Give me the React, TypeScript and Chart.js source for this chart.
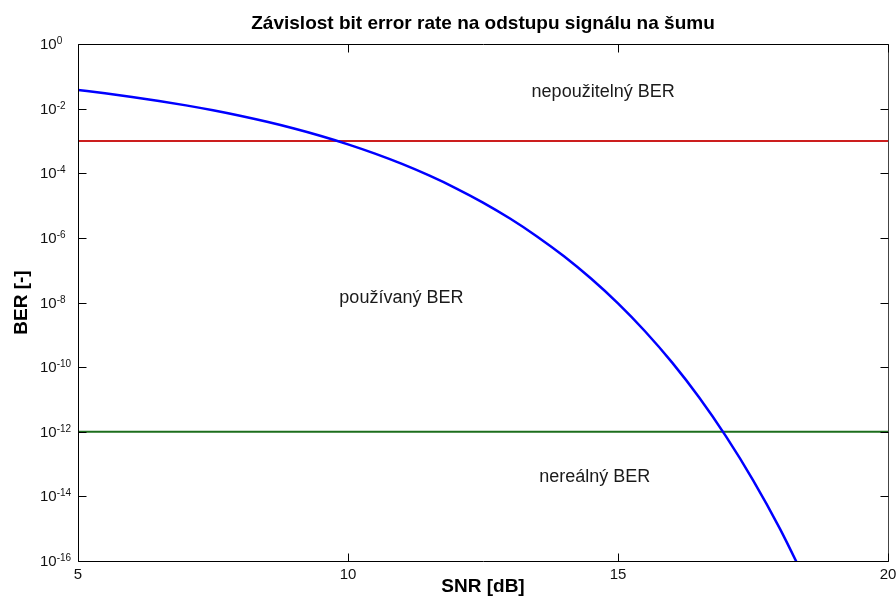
import React, { useEffect, useRef } from 'react';
import { Chart, registerables } from 'chart.js';

Chart.register(...registerables);

// SNR in dB (x axis)
const snrDb = [
  5, 5.5, 6, 6.5, 7, 7.5, 8, 8.5, 9, 9.5, 10, 10.5, 11, 11.5, 12, 12.5, 13, 13.5,
  14, 14.5, 15, 15.5, 16, 16.5, 17, 17.5, 18, 18.5,
];
// bit error rate
const ber = [
  3.77e-2, 2.98e-2, 2.3e-2, 1.73e-2, 1.26e-2, 8.87e-3, 6.0e-3, 3.9e-3, 2.42e-3, 1.42e-3,
  7.83e-4, 4.04e-4, 1.94e-4, 8.53e-5, 3.43e-5, 1.24e-5, 3.97e-6, 1.11e-6, 2.69e-7, 5.51e-8,
  9.38e-9, 1.29e-9, 1.4e-10, 1.17e-11, 7.2e-13, 3.2e-14, 9.9e-16, 2.0e-17,
];
// threshold levels
const unusableBer = 1e-3;
const unrealBer = 1e-12;
const xRange = [5, 20];
const yRange = [1e-16, 1];
// tick labels
const xTicks = [5, 10, 15, 20];
const yTickExponents = [0, -2, -4, -6, -8, -10, -12, -14, -16];

const titleText = 'Závislost bit error rate na odstupu signálu na šumu';
const xLabel = 'SNR [dB]';
const yLabel = 'BER [-]';
// region annotations in data coordinates
const regionTexts = ['nepoužitelný BER', 'používaný BER', 'nereálný BER'];
const regionX = [13.4, 9.84, 13.54];
const regionY = [2.3e-2, 1e-8, 2.7e-14];

const FONT = '"Liberation Sans", Arial, Helvetica, sans-serif';

const matlabAxes = {
  id: 'matlabAxes',
  afterDraw(chart: any) {
    const { ctx, chartArea: ca, scales } = chart;
    const xs = scales.x;
    const ys = scales.y;
    ctx.save();

    // region texts
    ctx.font = `18px ${FONT}`;
    ctx.fillStyle = '#1a1a1a';
    ctx.textAlign = 'left';
    ctx.textBaseline = 'alphabetic';
    regionTexts.forEach((t, i) => {
      ctx.fillText(t, xs.getPixelForValue(regionX[i]), ys.getPixelForValue(regionY[i]));
    });

    const L = Math.round(ca.left) + 0.5;
    const R = Math.round(ca.right) + 0.5;
    const T = Math.round(ca.top) + 0.5;
    const B = Math.round(ca.bottom) + 0.5;

    // axes box
    ctx.lineWidth = 1;
    ctx.strokeStyle = '#000';
    ctx.beginPath();
    ctx.moveTo(R, T);
    ctx.lineTo(L, T);
    ctx.lineTo(L, B);
    ctx.lineTo(R, B);
    ctx.stroke();
    ctx.strokeStyle = '#444';
    ctx.beginPath();
    ctx.moveTo(R, T);
    ctx.lineTo(R, B);
    ctx.stroke();

    // inward ticks
    const tl = 8;
    ctx.strokeStyle = '#000';
    ctx.beginPath();
    yTickExponents.forEach((e) => {
      const py = Math.round(ys.getPixelForValue(Math.pow(10, e))) + 0.5;
      ctx.moveTo(L, py);
      ctx.lineTo(L + tl, py);
      ctx.moveTo(R, py);
      ctx.lineTo(R - tl, py);
    });
    xTicks.forEach((v) => {
      const px = Math.round(xs.getPixelForValue(v)) + 0.5;
      ctx.moveTo(px, B);
      ctx.lineTo(px, B - tl);
      ctx.moveTo(px, T);
      ctx.lineTo(px, T + tl);
    });
    ctx.stroke();

    // y tick labels 10^e
    ctx.fillStyle = '#111';
    ctx.textAlign = 'left';
    yTickExponents.forEach((e) => {
      const py = ys.getPixelForValue(Math.pow(10, e));
      ctx.font = `15px ${FONT}`;
      const bx = ca.left - 38;
      ctx.fillText('10', bx, py + 5);
      const w = ctx.measureText('10').width;
      ctx.font = `10px ${FONT}`;
      ctx.fillText(String(e), bx + w, py);
    });

    // x tick labels
    ctx.font = `15px ${FONT}`;
    ctx.textAlign = 'center';
    xTicks.forEach((v) => {
      ctx.fillText(String(v), xs.getPixelForValue(v), ca.bottom + 17.5);
    });

    // title and axis labels
    const cx = (ca.left + ca.right) / 2;
    ctx.fillStyle = '#000';
    ctx.font = `bold 19px ${FONT}`;
    ctx.textAlign = 'center';
    ctx.fillText(titleText, cx, 29);
    ctx.fillText(xLabel, cx, 592);
    ctx.save();
    ctx.translate(27, (ca.top + ca.bottom) / 2);
    ctx.rotate(-Math.PI / 2);
    ctx.fillText(yLabel, 0, 0);
    ctx.restore();

    ctx.restore();
  },
};

export default function App() {
  const ref = useRef<HTMLCanvasElement | null>(null);

  useEffect(() => {
    if (!ref.current) return;
    const curve = snrDb.map((x, i) => ({ x, y: ber[i] }));
    const chart = new Chart(ref.current, {
      type: 'line',
      data: {
        datasets: [
          {
            data: curve,
            borderColor: '#0000ff',
            borderWidth: 2.5,
            pointRadius: 0,
            cubicInterpolationMode: 'monotone',
            order: 0,
          },
          {
            data: [
              { x: xRange[0], y: unusableBer },
              { x: xRange[1], y: unusableBer },
            ],
            borderColor: '#cc1e1e',
            borderWidth: 2,
            pointRadius: 0,
            order: 1,
          },
          {
            data: [
              { x: xRange[0], y: unrealBer },
              { x: xRange[1], y: unrealBer },
            ],
            borderColor: '#1c6e1c',
            borderWidth: 2,
            pointRadius: 0,
            order: 2,
          },
        ],
      },
      options: {
        responsive: false,
        animation: false,
        devicePixelRatio: 1,
        layout: { padding: { top: 44, right: 8, left: 0, bottom: 0 } },
        plugins: { legend: { display: false }, tooltip: { enabled: false }, title: { display: false } },
        scales: {
          x: {
            type: 'linear',
            min: xRange[0],
            max: xRange[1],
            grid: { display: false },
            border: { display: false },
            ticks: { display: false },
            afterFit: (s: any) => {
              s.height = 42;
            },
          },
          y: {
            type: 'logarithmic',
            min: yRange[0],
            max: yRange[1],
            grid: { display: false },
            border: { display: false },
            ticks: { display: false },
            afterFit: (s: any) => {
              s.width = 78;
            },
          },
        },
      },
      plugins: [matlabAxes],
    } as any);
    return () => chart.destroy();
  }, []);

  return (
    <div style={{ position: 'fixed', left: 0, top: 0, width: 896, height: 603, background: '#fff' }}>
      <canvas ref={ref} width={896} height={603} style={{ display: 'block', width: 896, height: 603 }} />
    </div>
  );
}
